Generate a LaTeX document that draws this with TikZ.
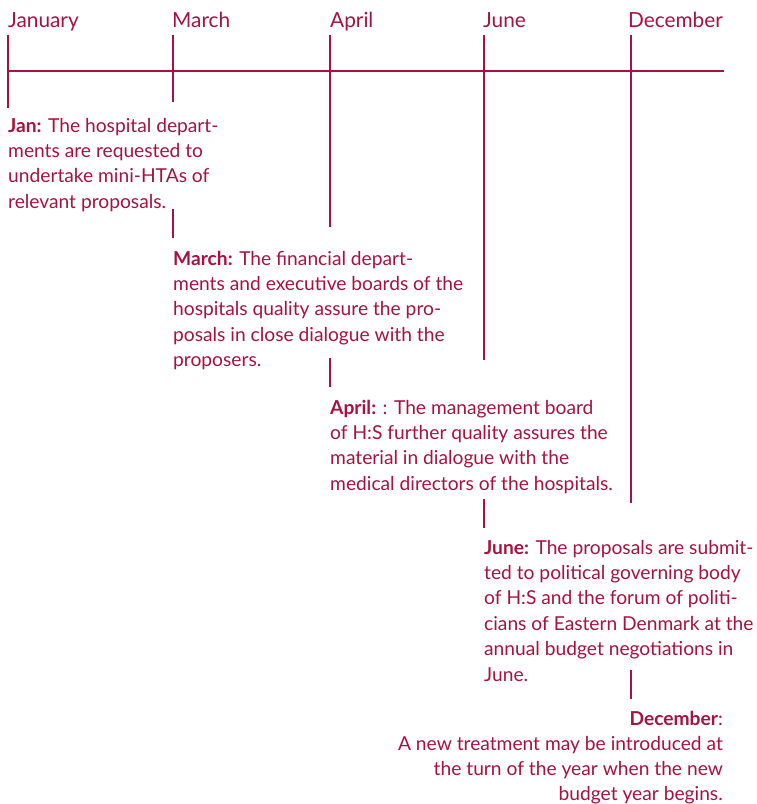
\documentclass[tikz,border=0pt]{standalone}
\usepackage{fontspec}
\setmainfont{Lato}
\definecolor{crim}{RGB}{168,18,64}
\begin{document}
\begin{tikzpicture}[x=1pt,y=-1pt,
  tl/.style={draw=crim,line width=1.4pt},
  month/.style={anchor=base west,inner sep=0pt,text=crim,font=\fontsize{20.8}{24}\selectfont},
  desc/.style={anchor=base west,inner sep=0pt,text=crim,font=\fontsize{19.2}{25.4}\selectfont},
  descr/.style={anchor=base east,inner sep=0pt,text=crim,font=\fontsize{19.2}{25.2}\selectfont}]
\useasboundingbox (0,0) rectangle (757,804);
% month labels
\node[month] (mjan) at (8,27) {January};
\node[month] (mmar) at (172,27) {March};
\node[month] (mapr) at (330,27) {April};
\node[month] (mjun) at (483,27) {June};
\node[month] (mdec) at (628,27) {December};
% timeline
\coordinate (hs) at (8,71);
\coordinate (he) at (724,71);
\draw[tl] (hs) -- (he);
% descriptions
\node[desc] (djan) at (8,132) {\begin{tabular}[t]{@{}l@{}}\textbf{Jan:} The hospital depart-\\ments are requested to\\undertake mini-HTAs of\\relevant proposals.\end{tabular}};
\node[desc] (dmar) at (173,265) {\begin{tabular}[t]{@{}l@{}}\textbf{March:} The financial depart-\\ments and executive boards of the\\hospitals quality assure the pro-\\posals in close dialogue with the\\proposers.\end{tabular}};
\node[desc] (dapr) at (330,414) {\begin{tabular}[t]{@{}l@{}}\textbf{April:} : The management board\\of H:S further quality assures the\\material in dialogue with the\\medical directors of the hospitals.\end{tabular}};
\node[desc] (djun) at (484,554) {\begin{tabular}[t]{@{}l@{}}\textbf{June:} The proposals are submit-\\ted to political governing body\\of H:S and the forum of politi-\\cians of Eastern Denmark at the\\annual budget negotiations in\\June.\end{tabular}};
\node[descr] (ddec) at (723,725) {\begin{tabular}[t]{@{}r@{}}\textbf{December}:\\A new treatment may be introduced at\\the turn of the year when the new\\budget year begins.\end{tabular}};
% vertical lines
\coordinate (jant) at (8,35);   \coordinate (janb) at (8,108);
\coordinate (mart) at (173,35); \coordinate (marb) at (173,102);
\coordinate (mars1) at (173,209); \coordinate (mars2) at (173,238);
\coordinate (aprt) at (330,35); \coordinate (aprb) at (330,227);
\coordinate (aprs1) at (330,358); \coordinate (aprs2) at (330,387);
\coordinate (junt) at (484,35); \coordinate (junb) at (484,360);
\coordinate (juns1) at (484,499); \coordinate (juns2) at (484,528);
\coordinate (dect) at (631,35); \coordinate (decb) at (631,503);
\coordinate (decs1) at (631,670); \coordinate (decs2) at (631,699);
\draw[tl] (jant) -- (janb);
\draw[tl] (mart) -- (marb);
\draw[tl] (mars1) -- (mars2);
\draw[tl] (aprt) -- (aprb);
\draw[tl] (aprs1) -- (aprs2);
\draw[tl] (junt) -- (junb);
\draw[tl] (juns1) -- (juns2);
\draw[tl] (dect) -- (decb);
\draw[tl] (decs1) -- (decs2);
\end{tikzpicture}
\end{document}
